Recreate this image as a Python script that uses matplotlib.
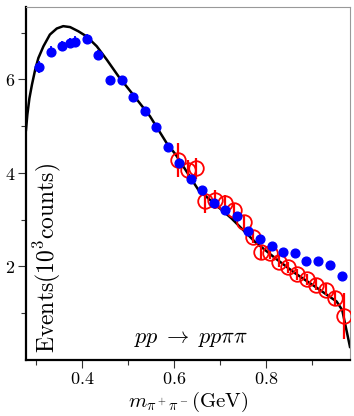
import matplotlib
matplotlib.use("Agg")
import matplotlib.pyplot as plt
from matplotlib.ticker import MultipleLocator, FixedLocator, FuncFormatter

plt.rcParams['mathtext.fontset'] = 'cm'
plt.rcParams['font.family'] = ['DejaVu Serif']

# blue data points (filled circles)
blue_x = [0.307, 0.333, 0.357, 0.373, 0.385, 0.411, 0.435, 0.461, 0.486, 0.511,
          0.536, 0.561, 0.587, 0.611, 0.637, 0.662, 0.687, 0.712, 0.738, 0.762,
          0.787, 0.814, 0.838, 0.863, 0.888, 0.913, 0.939, 0.965]
blue_y = [6.26, 6.59, 6.72, 6.78, 6.81, 6.87, 6.52, 5.98, 5.98, 5.62,
          5.33, 4.99, 4.55, 4.22, 3.88, 3.63, 3.36, 3.21, 3.08, 2.76,
          2.59, 2.43, 2.31, 2.28, 2.11, 2.12, 2.03, 1.80]
blue_err = [0.13, 0.12, 0.11, 0.11, 0.11, 0.11, 0.1, 0.1, 0.1, 0.09,
            0.08, 0.08, 0.07, 0.07, 0.06, 0.06, 0.06, 0.06, 0.05, 0.05,
            0.05, 0.05, 0.05, 0.05, 0.05, 0.05, 0.05, 0.05]

# red data points (open circles)
red_x = [0.609, 0.630, 0.649, 0.668, 0.689, 0.710, 0.731, 0.752, 0.772, 0.790,
         0.809, 0.828, 0.848, 0.868, 0.889, 0.910, 0.930, 0.951, 0.970]
red_y = [4.28, 4.07, 4.10, 3.39, 3.43, 3.36, 3.21, 2.96, 2.64, 2.32,
         2.28, 2.10, 1.98, 1.83, 1.73, 1.61, 1.50, 1.32, 0.94]
red_err = [0.37, 0.2, 0.22, 0.25, 0.2, 0.17, 0.15, 0.15, 0.14, 0.15,
           0.12, 0.12, 0.12, 0.12, 0.12, 0.12, 0.12, 0.15, 0.5]

# model curve
curve_x = [0.278, 0.281, 0.2855, 0.291, 0.298, 0.305, 0.316, 0.330, 0.345, 0.359,
           0.374, 0.392, 0.410, 0.432, 0.454, 0.479, 0.5115, 0.548, 0.584, 0.604,
           0.653, 0.725, 0.776, 0.82, 0.863, 0.907, 0.954, 0.966, 0.983]
curve_y = [4.92, 5.25, 5.60, 5.89, 6.21, 6.46, 6.71, 6.96, 7.09, 7.14,
           7.12, 7.03, 6.92, 6.71, 6.42, 6.07, 5.67, 5.21, 4.64, 4.39,
           3.64, 3.03, 2.53, 2.18, 1.86, 1.57, 1.25, 1.07, 0.28]

fig = plt.figure(figsize=(3.54, 4.16), dpi=100)
ax = fig.add_axes([0.0734, 0.1346, 0.9153, 0.8486])

ax.plot(curve_x, curve_y, color='black', lw=1.8, zorder=2, solid_joinstyle='round')
ax.errorbar(red_x, red_y, yerr=red_err, fmt='o', mfc='none', mec='red',
            ecolor='red', ms=10.5, mew=1.3, elinewidth=1.6, capsize=0, zorder=3)
ax.errorbar(blue_x, blue_y, yerr=blue_err, fmt='o', color='blue',
            ms=6.3, elinewidth=1.3, capsize=0, zorder=4)

ax.set_xlim(0.278, 0.983)
ax.set_ylim(0, 7.55)

ax.xaxis.set_major_locator(MultipleLocator(0.2))
ax.xaxis.set_minor_locator(MultipleLocator(0.1))
ax.yaxis.set_major_locator(FixedLocator([2, 4, 6]))
ax.yaxis.set_minor_locator(FixedLocator([1, 3, 5, 7]))
ax.xaxis.set_major_formatter(FuncFormatter(lambda v, p: r'$\mathbf{%.1f}$' % v))
ax.yaxis.set_major_formatter(FuncFormatter(lambda v, p: r'$\mathbf{%d}$' % round(v)))

ax.tick_params(which='both', direction='out', top=False, right=False,
               color='#333333', width=0.8, labelsize=13)
ax.tick_params(which='major', length=6, pad=1.5)
ax.tick_params(which='minor', length=3.5)

for s in ['left', 'bottom']:
    ax.spines[s].set_linewidth(1.6)
    ax.spines[s].set_color('black')
for s in ['top', 'right']:
    ax.spines[s].set_linewidth(0.8)
    ax.spines[s].set_color('#999999')

ax.set_xlabel(r'$m_{\pi^+\pi^-}\mathrm{(GeV)}$', fontsize=15, labelpad=1)
ax.text(0.016, 0.29, r'$\mathrm{Events(10^3counts)}$', transform=ax.transAxes,
        rotation=90, fontsize=17, ha='left', va='center')
ax.text(0.6365, 0.47, r'$pp\;\rightarrow\;pp\pi\pi$', fontsize=16,
        ha='center', va='center')

fig.savefig('out.png', dpi=100)
